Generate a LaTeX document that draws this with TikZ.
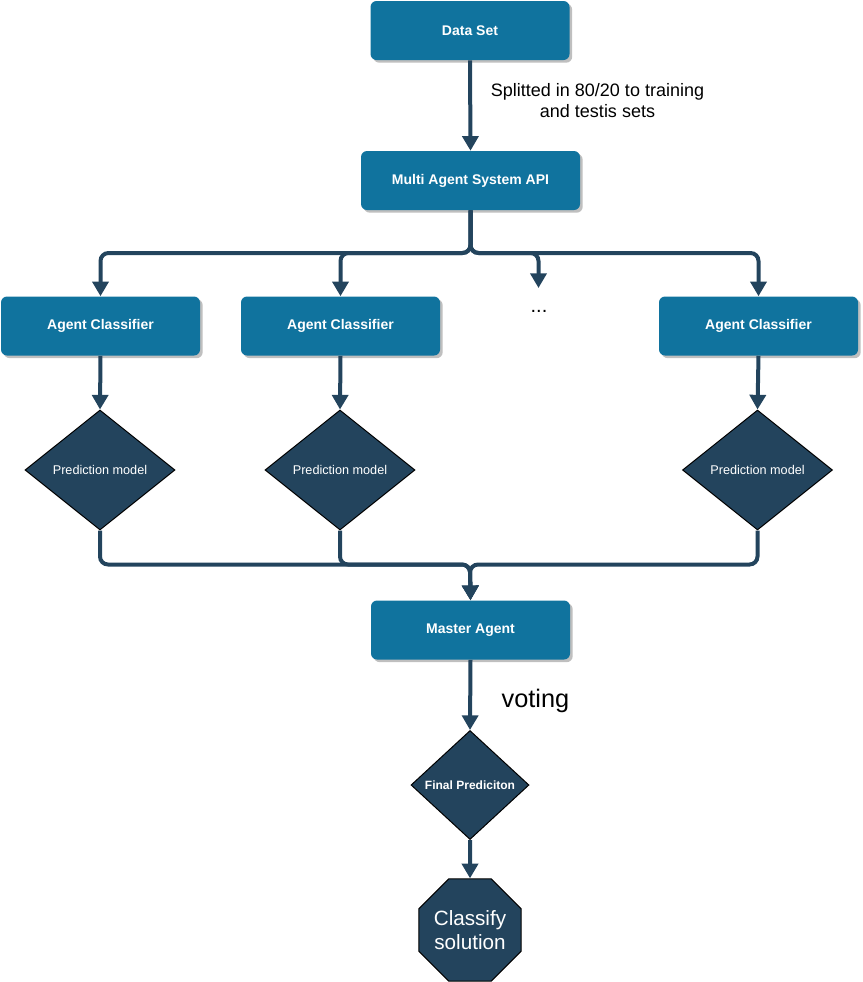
\documentclass[tikz,border=0pt]{standalone}
\usepackage{fontspec}
\setmainfont{Liberation Sans}
\usetikzlibrary{shapes.geometric,arrows.meta,shadows}
\definecolor{boxblue}{HTML}{10739E}
\definecolor{darkblue}{HTML}{23445D}
\tikzset{
  box/.style={rectangle, rounded corners=4.5pt, fill=boxblue, text=white,
    minimum width={199*0.75pt}, minimum height={59*0.75pt}, inner sep=0pt,
    font=\bfseries\fontsize{10.5}{12.6}\selectfont,
    drop shadow={shadow xshift=2pt, shadow yshift=-2pt, fill=black!25, opacity=1}},
  pmodel/.style={diamond, fill=darkblue, draw=black, line width=0.75pt, text=white,
    inner sep=0pt, aspect=1.25, minimum width={150*0.75pt}, minimum height={120*0.75pt},
    font=\fontsize{9.5}{11.4}\selectfont},
  conn/.style={draw=darkblue, line width=3pt, rounded corners=6pt,
    -{Triangle[length=11pt,width=12pt]}},
  plain/.style={inner sep=0pt, text=black, align=center}
}
\begin{document}
\begin{tikzpicture}[x=0.75pt,y=-0.75pt]
\useasboundingbox (0,0) rectangle (863,982);
% nodes
\node[box] (data) at (470,30.5) {Data Set};
\node[box, minimum width={219*0.75pt}] (api) at (470.5,180.5) {Multi Agent System API};
\node[box] (ac1) at (100.5,326) {Agent Classifier};
\node[box] (ac2) at (340.5,326) {Agent Classifier};
\node[box] (ac4) at (758.5,326) {Agent Classifier};
\node[plain, font=\fontsize{15}{18}\selectfont] (dots) at (539,311) {...};
\node[pmodel] (pm1) at (100,470) {Prediction model};
\node[pmodel] (pm2) at (340,470) {Prediction model};
\node[pmodel] (pm4) at (757.5,470) {Prediction model};
\node[box] (master) at (470.5,630) {Master Agent};
\node[diamond, fill=darkblue, draw=black, line width=0.75pt, text=white, inner sep=0pt,
      minimum width={118*0.75pt}, minimum height={109*0.75pt},
      font=\bfseries\fontsize{9}{10.8}\selectfont] (final) at (470,785) {Final Prediciton};
\node[regular polygon, regular polygon sides=8, minimum size={108.2*0.75pt}, inner sep=0pt,
      fill=darkblue, draw=black, line width=0.75pt, text=white, align=center,
      font=\fontsize{15.5}{18.5}\selectfont] (sol) at (470,930) {Classify\\solution};
\node[plain, font=\fontsize{13.5}{15.75}\selectfont] (split) at (597.5,100.5)
  {Splitted in 80/20 to training\\and testis sets};
\node[plain, font=\fontsize{19}{22}\selectfont] (vote) at (535.5,701) {voting};
% helper coordinates
\coordinate (bus) at (470,253);
\coordinate (dotsend) at (538.5,288);
\coordinate (mbus) at (470,564.5);
% connectors
\draw[conn] (data.south) -- (api.north);
\draw[conn] (api.south) |- (ac1.north |- bus) -- (ac1.north);
\draw[conn] (api.south) |- (ac2.north |- bus) -- (ac2.north);
\draw[conn] (api.south) |- (dotsend |- bus) -- (dotsend);
\draw[conn] (api.south) |- (ac4.north |- bus) -- (ac4.north);
\draw[conn] (ac1.south) -- (pm1.north);
\draw[conn] (ac2.south) -- (pm2.north);
\draw[conn] (ac4.south) -- (pm4.north);
\draw[conn] (pm1.south) |- (mbus) -- (master.north);
\draw[conn] (pm2.south) |- (mbus) -- (master.north);
\draw[conn] (pm4.south) |- (mbus) -- (master.north);
\draw[conn] (master.south) -- (final.north);
\draw[conn] (final.south) -- (sol.north);
\end{tikzpicture}
\end{document}
